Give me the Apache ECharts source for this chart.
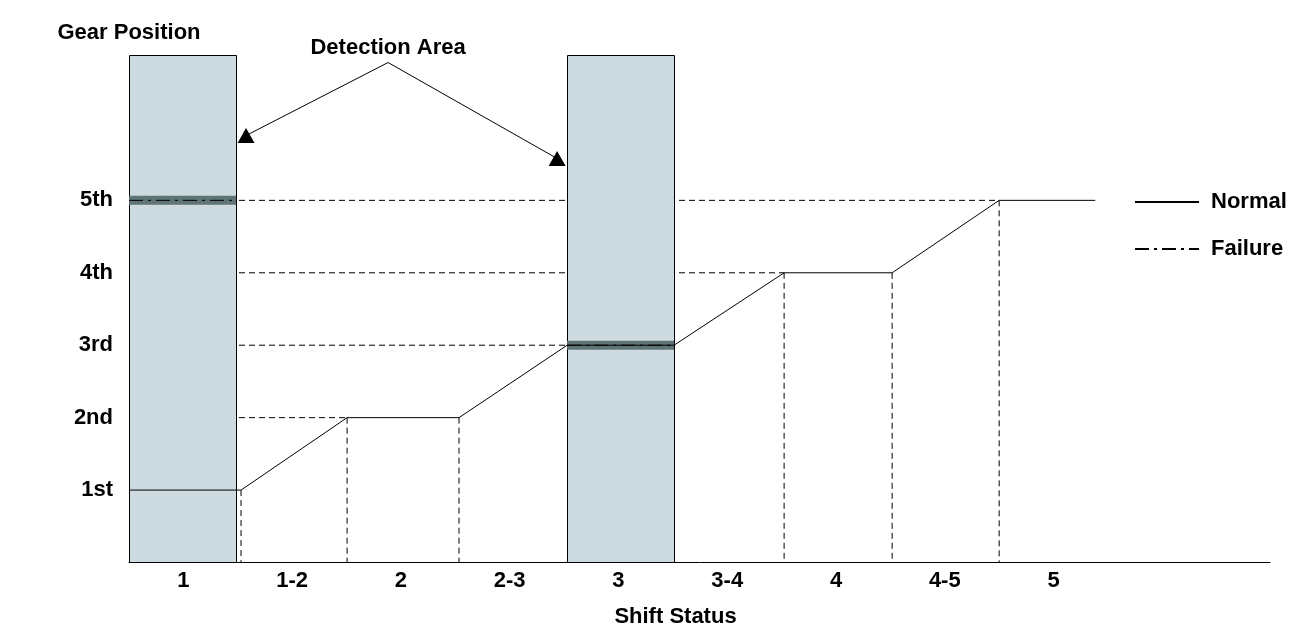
<!DOCTYPE html>
<html>
<head>
<meta charset="utf-8">
<script src="https://cdn.jsdelivr.net/npm/echarts@6/dist/echarts.min.js"></script>
<style>
html,body{margin:0;padding:0;background:#fff;}
#chart{width:1312px;height:640px;}
</style>
</head>
<body>
<div id="chart"></div>
<script>
// ---- data ----
const categories = ['1', '1-2', '2', '2-3', '3', '3-4', '4', '4-5', '5'];
const gearLabels = ['', '1st', '2nd', '3rd', '4th', '5th', '', ''];
const normalX = [0, 1.03, 2.005, 3.034, 4.028, 5.011, 6.023, 7.016, 8.0, 8.883];
const normalGear = [1, 1, 2, 2, 3, 3, 4, 4, 5, 5];
const detectStart = [0, 4.028];
const detectEnd = [0.984, 5.011];
const failureGear = [5, 3];
const annotX = [1.076, 2.382, 3.936];
const annotY = [5.895, 6.903, 5.578];
const annotText = 'Detection Area';

// ---- build ----
const FONT = "'Liberation Sans', Arial, sans-serif";
const GAP = ['-', '-'];

const normalData = normalX.map((x, i) => [x, normalGear[i]]);

const inDetection = (x) => detectStart.some((s, k) => x >= s - 0.02 && x <= detectEnd[k] + 0.02);

const guideData = [];
for (let i = 1; i < normalX.length - 1; i++) {
  if (inDetection(normalX[i])) continue;
  guideData.push([normalX[i], normalGear[i]], [normalX[i], 0], GAP);
}
for (let i = 1; i < normalX.length; i++) {
  if (normalGear[i] !== normalGear[i - 1]) {
    guideData.push([0, normalGear[i]], [normalX[i], normalGear[i]], GAP);
  }
}

const failureSeg = (k) => [[detectStart[k], failureGear[k]], [detectEnd[k], failureGear[k]]];
const failureData = [...failureSeg(0), GAP, ...failureSeg(1)];

const annotData = annotX.map((x, i) => {
  const item = { value: [x, annotY[i]] };
  if (i === 1) {
    item.symbol = 'circle';
    item.symbolSize = 0.1;
    item.label = { show: true, position: 'top', distance: 4, formatter: annotText,
      fontFamily: FONT, fontWeight: 'bold', fontSize: 22, color: '#000' };
  } else {
    item.symbol = 'triangle';
  }
  return item;
});

const rectData = detectStart.map((s, i) => [s, detectEnd[i]]);

const chart = echarts.init(document.getElementById('chart'));
chart.setOption({
  animation: false,
  backgroundColor: '#fff',
  grid: { left: 129, right: 42, top: 55.5, bottom: 77.5 },
  legend: {
    data: ['Normal', 'Failure'],
    orient: 'vertical',
    left: 1129,
    top: 186,
    itemWidth: 64,
    itemHeight: 14,
    itemGap: 25,
    itemStyle: { color: 'rgba(0,0,0,0)', borderWidth: 0, opacity: 0 },
    textStyle: { fontFamily: FONT, fontWeight: 'bold', fontSize: 22, color: '#000', padding: [0, 0, 0, 7] },
    selectedMode: false
  },
  xAxis: {
    type: 'value',
    min: 0,
    max: 10.49,
    interval: 0.5,
    name: 'Shift Status',
    nameLocation: 'middle',
    nameGap: 43,
    nameTextStyle: { fontFamily: FONT, fontWeight: 'bold', fontSize: 22, color: '#000', padding: [0, 48, 0, 0] },
    axisLine: { show: true, onZero: false, lineStyle: { color: '#000', width: 1 } },
    axisTick: { show: false },
    splitLine: { show: false },
    axisLabel: {
      margin: 7,
      fontFamily: FONT, fontWeight: 'bold', fontSize: 22, color: '#000',
      showMinLabel: true, showMaxLabel: false,
      formatter: (v) => {
        const k = v - 0.5;
        const r = Math.round(k);
        if (Math.abs(k - r) < 1e-6 && categories[r] !== undefined) return categories[r];
        return '';
      }
    }
  },
  yAxis: {
    type: 'value',
    min: 0,
    max: 7,
    interval: 1,
    name: 'Gear Position',
    nameLocation: 'end',
    nameGap: 12,
    nameTextStyle: { fontFamily: FONT, fontWeight: 'bold', fontSize: 22, color: '#000', align: 'center' },
    axisLine: { show: false },
    axisTick: { show: false },
    splitLine: { show: false },
    axisLabel: {
      margin: 16,
      fontFamily: FONT, fontWeight: 'bold', fontSize: 22, color: '#000',
      formatter: (v) => gearLabels[v] || ''
    }
  },
  series: [
    {
      name: 'guides',
      type: 'line',
      z: 1,
      data: guideData,
      symbol: 'none',
      connectNulls: false,
      silent: true,
      lineStyle: { color: '#000', width: 1, type: [6, 4] }
    },
    {
      name: 'detection',
      type: 'custom',
      z: 2,
      silent: true,
      data: rectData,
      encode: { x: [0, 1] },
      renderItem: (params, api) => {
        const p0 = api.coord([api.value(0), 7]);
        const p1 = api.coord([api.value(1), 0]);
        const x0 = Math.round(p0[0]) + 0.5, y0 = Math.floor(p0[1]) + 0.5;
        const x1 = Math.round(p1[0]) + 0.5, y1 = Math.floor(p1[1]) + 0.5;
        return {
          type: 'rect',
          shape: { x: x0, y: y0, width: x1 - x0, height: y1 - y0 },
          style: { fill: '#cddae0', stroke: '#000', lineWidth: 1 }
        };
      }
    },
    {
      name: 'band',
      type: 'line',
      z: 3,
      data: failureData,
      symbol: 'none',
      connectNulls: false,
      silent: true,
      lineStyle: { color: '#5f7575', width: 9, cap: 'butt' }
    },
    {
      name: 'Failure',
      type: 'line',
      z: 4,
      data: failureData,
      symbol: 'none',
      connectNulls: false,
      color: '#000',
      lineStyle: { color: '#000', width: 1, type: [14, 5, 3, 5] }
    },
    {
      name: 'Normal',
      type: 'line',
      z: 5,
      data: normalData,
      symbol: 'none',
      color: '#000',
      lineStyle: { color: '#000', width: 1 }
    },
    {
      name: 'annotation',
      type: 'line',
      z: 6,
      data: annotData,
      symbolSize: [17, 15],
      color: '#000',
      itemStyle: { color: '#000' },
      silent: true,
      lineStyle: { color: '#000', width: 1 }
    }
  ]
});
</script>
</body>
</html>
